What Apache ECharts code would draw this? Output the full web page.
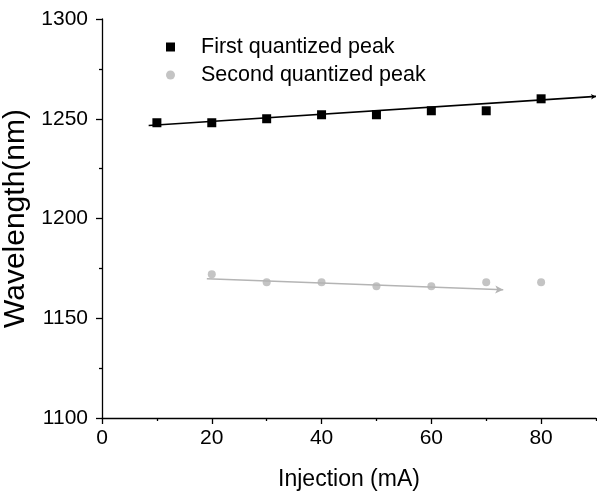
<!DOCTYPE html>
<html>
<head>
<meta charset="utf-8">
<script src="https://cdn.jsdelivr.net/npm/echarts@6/dist/echarts.min.js"></script>
<style>html,body{margin:0;padding:0;background:#fff;}#c{width:597px;height:491px;}</style>
</head>
<body>
<div id="c"></div>
<script>
var injection = [10, 20, 30, 40, 50, 60, 70, 80];
var firstPeak = [1248, 1248, 1250, 1252, 1252, 1254, 1254, 1260];
var injection2 = [20, 30, 40, 50, 60, 70, 80];
var secondPeak = [1172, 1168, 1168, 1166, 1166, 1168, 1168];
var fit1 = [[8.5, 1246.6], [90, 1261.2]];
var fit2 = [[19.1, 1169.8], [73.1, 1164.3]];
var xMajor = [0, 20, 40, 60, 80];
var xMinor = [10, 30, 50, 70, 90];
var names = ['First quantized peak', 'Second quantized peak'];

var FONT = '"Liberation Sans", Arial, sans-serif';
var chart = echarts.init(document.getElementById('c'), null, {renderer: 'canvas'});
function zip(xs, ys) { return xs.map(function (x, i) { return [x, ys[i]]; }); }

chart.setOption({
  animation: false,
  backgroundColor: '#fff',
  grid: {left: 102, right: 1, top: 19, bottom: 73, containLabel: false, outerBoundsMode: 'none'},
  legend: {
    orient: 'vertical', left: 161, top: 31, itemGap: 6,
    itemWidth: 9, itemHeight: 9,
    data: [{name: names[0], icon: 'rect'}, {name: names[1], icon: 'circle'}],
    textStyle: {fontFamily: FONT, fontSize: 21.5, color: '#000', padding: [0, 0, 0, 21]}
  },
  xAxis: [{
    type: 'value', min: 0, max: 90, interval: 10, position: 'bottom',
    name: 'Injection (mA)', nameLocation: 'middle', nameGap: 50,
    nameTextStyle: {fontFamily: FONT, fontSize: 23, color: '#000'},
    axisLine: {show: true, onZero: false, lineStyle: {color: '#000', width: 1.3}},
    axisTick: {show: true, inside: false, length: 6, customValues: xMajor, lineStyle: {color: '#000', width: 1.3}},
    axisLabel: {fontFamily: FONT, fontSize: 21, color: '#000', margin: 10, customValues: xMajor},
    splitLine: {show: false}
  }, {
    type: 'value', min: 0, max: 90, interval: 10, position: 'bottom',
    axisLine: {show: false, onZero: false},
    axisTick: {show: true, inside: false, length: 3, customValues: xMinor, lineStyle: {color: '#000', width: 1.3}},
    axisLabel: {show: false},
    splitLine: {show: false}
  }],
  yAxis: {
    type: 'value', min: 1100, max: 1300, interval: 50,
    name: 'Wavelength(nm)', nameLocation: 'middle', nameGap: 59,
    nameTextStyle: {fontFamily: FONT, fontSize: 30, color: '#000'},
    axisLine: {show: true, onZero: false, lineStyle: {color: '#000', width: 1.3}},
    axisTick: {show: true, inside: false, length: 6, lineStyle: {color: '#000', width: 1.3}},
    minorTick: {show: true, splitNumber: 2, length: 3, lineStyle: {color: '#000', width: 1.3}},
    axisLabel: {fontFamily: FONT, fontSize: 21, color: '#000', margin: 14, formatter: function (v) { return String(v); }},
    splitLine: {show: false}
  },
  series: [{
    name: names[0], type: 'scatter', symbol: 'rect', symbolSize: 9,
    itemStyle: {color: '#000', opacity: 1},
    data: zip(injection, firstPeak), clip: false, z: 3,
    markLine: {
      silent: true, symbol: ['none', 'arrow'], symbolSize: [4, 5],
      label: {show: false},
      lineStyle: {type: 'solid', color: '#000', width: 1.6},
      data: [[{coord: fit1[0]}, {coord: fit1[1]}]]
    }
  }, {
    name: names[1], type: 'scatter', symbol: 'circle', symbolSize: 8,
    itemStyle: {color: '#c4c4c4', opacity: 1},
    data: zip(injection2, secondPeak), clip: false, z: 3,
    markLine: {
      silent: true, symbol: ['none', 'arrow'], symbolSize: [6, 8],
      label: {show: false},
      lineStyle: {type: 'solid', color: '#b4b4b4', width: 1.4},
      data: [[{coord: fit2[0]}, {coord: fit2[1]}]]
    }
  }]
});
</script>
</body>
</html>
